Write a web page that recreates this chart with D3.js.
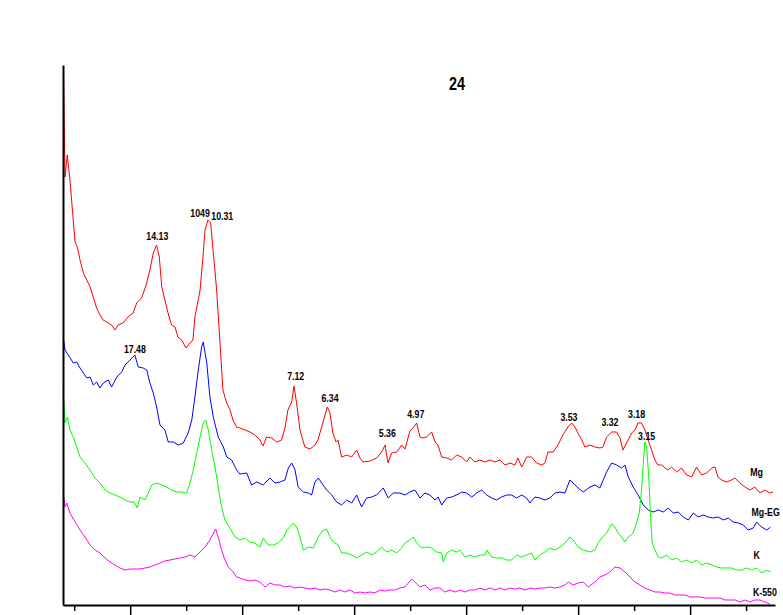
<!DOCTYPE html>
<html>
<head>
<meta charset="utf-8">
<script src="https://cdn.jsdelivr.net/npm/d3@7"></script>
<style>
body { margin: 0; background: #fff; }
svg { display: block; }
text { font-family: "Liberation Sans", Arial, sans-serif; font-weight: bold; fill: #000; }
</style>
</head>
<body>
<svg id="chart" width="783" height="615"></svg>
<script>
// XRD traces, [2-theta (deg), intensity (a.u., offsets included)]
var mg = [[2.02,538],[2.09,428],[2.19,450],[2.31,425],[2.42,395],[2.54,363],[2.64,358],[2.76,345],[2.91,332],[3.06,325],[3.21,318],[3.35,308],[3.50,297],[3.65,290],[3.79,285],[3.95,283],[4.17,280],[4.32,275],[4.46,280],[4.68,282],[4.90,288],[5.13,292],[5.29,302],[5.51,307],[5.71,320],[5.88,335],[6.03,352],[6.18,360],[6.30,348],[6.41,318],[6.55,305],[6.69,292],[6.85,280],[7.00,278],[7.13,268],[7.30,265],[7.49,257],[7.67,262],[7.80,265],[7.89,288],[8.12,315],[8.25,348],[8.34,375],[8.47,385],[8.59,382],[8.70,355],[8.86,315],[9.01,262],[9.14,215],[9.31,202],[9.46,195],[9.59,185],[9.75,178],[9.90,177],[10.13,175],[10.35,173],[10.57,170],[10.79,165],[10.93,159],[11.09,168],[11.32,167],[11.54,163],[11.76,165],[11.91,177],[12.04,195],[12.21,203],[12.31,219],[12.43,202],[12.58,175],[12.80,158],[13.03,156],[13.25,160],[13.38,165],[13.55,178],[13.70,190],[13.80,198],[13.92,192],[14.05,172],[14.19,163],[14.28,165],[14.44,148],[14.67,150],[14.89,148],[15.11,155],[15.26,147],[15.39,143],[15.71,144],[16.00,147],[16.23,153],[16.38,160],[16.51,142],[16.67,152],[16.90,153],[17.12,160],[17.27,156],[17.49,174],[17.63,177],[17.79,182],[17.94,168],[18.07,167],[18.24,168],[18.46,173],[18.61,163],[18.74,160],[18.91,148],[19.13,147],[19.35,145],[19.58,150],[19.80,148],[20.02,143],[20.17,148],[20.39,143],[20.62,145],[20.84,143],[21.06,145],[21.29,143],[21.51,145],[21.73,140],[21.96,142],[22.18,140],[22.31,147],[22.48,138],[22.70,148],[22.92,148],[23.15,142],[23.37,140],[23.52,142],[23.65,153],[23.88,153],[24.10,160],[24.32,170],[24.54,178],[24.71,182],[24.86,178],[24.99,172],[25.16,165],[25.30,158],[25.53,160],[25.75,158],[25.97,157],[26.11,158],[26.27,168],[26.50,173],[26.72,173],[26.87,167],[27.00,155],[27.16,162],[27.39,172],[27.54,175],[27.67,182],[27.83,182],[27.98,175],[28.12,165],[28.28,155],[28.43,145],[28.56,140],[28.73,140],[28.88,137],[29.01,135],[29.17,138],[29.40,133],[29.62,137],[29.84,130],[30.07,128],[30.29,138],[30.51,130],[30.74,132],[30.96,137],[31.11,138],[31.24,128],[31.41,125],[31.63,123],[31.85,125],[32.00,127],[32.22,122],[32.45,118],[32.67,115],[32.89,118],[33.12,112],[33.34,115],[33.56,112],[33.70,113]];

var mgEg = [[2.01,268],[2.09,255],[2.24,250],[2.46,242],[2.61,243],[2.76,237],[2.91,232],[3.06,227],[3.21,228],[3.35,220],[3.50,223],[3.65,217],[3.80,222],[4.02,225],[4.17,218],[4.40,228],[4.62,233],[4.77,240],[4.99,245],[5.21,250],[5.36,238],[5.58,237],[5.74,235],[5.88,222],[6.03,212],[6.18,198],[6.33,180],[6.55,175],[6.70,163],[6.92,163],[7.15,160],[7.37,162],[7.59,172],[7.75,185],[7.89,208],[8.04,235],[8.19,258],[8.26,263],[8.42,242],[8.56,208],[8.71,188],[8.93,168],[9.16,158],[9.31,148],[9.53,145],[9.75,135],[9.90,131],[10.20,132],[10.42,120],[10.65,123],[10.94,120],[11.24,127],[11.46,122],[11.69,123],[11.91,125],[12.06,137],[12.21,142],[12.36,135],[12.50,118],[12.73,113],[12.95,112],[13.10,110],[13.25,123],[13.40,127],[13.55,122],[13.77,115],[14.00,110],[14.22,103],[14.44,100],[14.67,105],[14.89,102],[15.11,110],[15.33,98],[15.56,107],[15.78,108],[16.00,110],[16.30,117],[16.52,107],[16.75,112],[17.04,112],[17.27,110],[17.49,113],[17.71,115],[17.94,107],[18.16,112],[18.38,110],[18.61,105],[18.75,108],[18.91,100],[19.13,107],[19.35,108],[19.58,110],[19.80,113],[20.02,112],[20.25,108],[20.47,112],[20.69,115],[20.92,110],[21.14,107],[21.36,105],[21.58,108],[21.81,110],[22.03,110],[22.25,107],[22.48,110],[22.70,107],[22.85,102],[23.07,108],[23.29,107],[23.52,105],[23.74,107],[23.96,112],[24.19,113],[24.41,112],[24.63,125],[24.78,122],[25.00,117],[25.23,113],[25.53,118],[25.75,120],[25.97,117],[26.12,125],[26.27,133],[26.50,142],[26.72,140],[26.94,137],[27.09,140],[27.24,128],[27.46,118],[27.68,110],[27.91,100],[28.13,95],[28.35,93],[28.58,95],[28.80,93],[29.02,97],[29.25,92],[29.47,93],[29.69,88],[29.92,85],[30.14,92],[30.36,88],[30.58,90],[30.81,88],[31.03,87],[31.25,88],[31.48,85],[31.70,87],[31.92,83],[32.15,82],[32.37,80],[32.59,75],[32.82,77],[32.97,83],[33.19,78],[33.42,75],[33.59,78]];

var k = [[2.01,215],[2.09,182],[2.19,188],[2.31,175],[2.46,168],[2.61,158],[2.76,148],[2.98,142],[3.21,135],[3.43,127],[3.65,122],[3.88,115],[4.10,112],[4.32,110],[4.54,108],[4.77,105],[4.99,103],[5.17,103],[5.32,97],[5.44,108],[5.66,105],[5.81,112],[5.96,120],[6.18,122],[6.41,120],[6.63,118],[6.85,115],[7.08,113],[7.30,113],[7.52,112],[7.67,122],[7.82,135],[7.97,152],[8.12,168],[8.26,182],[8.37,185],[8.49,175],[8.64,155],[8.79,138],[8.93,118],[9.08,98],[9.23,85],[9.46,77],[9.68,68],[9.90,65],[10.13,67],[10.35,63],[10.57,62],[10.79,58],[10.94,67],[11.17,60],[11.39,60],[11.61,62],[11.83,67],[11.99,75],[12.13,78],[12.28,82],[12.43,78],[12.58,68],[12.73,55],[12.95,58],[13.17,57],[13.40,68],[13.62,75],[13.77,76],[13.92,68],[14.07,63],[14.29,60],[14.44,52],[14.67,52],[14.89,50],[15.11,47],[15.33,50],[15.56,53],[15.78,50],[16.00,53],[16.23,58],[16.45,53],[16.67,55],[16.90,52],[17.12,57],[17.27,62],[17.49,65],[17.64,68],[17.79,62],[18.01,57],[18.24,58],[18.46,57],[18.68,53],[18.91,52],[18.98,43],[19.13,52],[19.35,55],[19.58,53],[19.72,55],[19.95,48],[20.17,50],[20.39,48],[20.62,50],[20.84,50],[20.92,55],[21.14,48],[21.36,47],[21.58,47],[21.81,45],[22.03,45],[22.25,50],[22.48,48],[22.70,50],[22.92,52],[23.07,45],[23.29,50],[23.52,53],[23.74,57],[23.96,55],[24.19,58],[24.41,62],[24.63,68],[24.78,65],[25.00,58],[25.23,55],[25.53,53],[25.75,55],[25.90,62],[26.05,67],[26.27,72],[26.50,81],[26.64,78],[26.79,72],[26.94,68],[27.09,63],[27.24,68],[27.46,72],[27.61,82],[27.73,92],[27.83,115],[27.91,142],[27.98,163],[28.06,158],[28.16,125],[28.24,85],[28.31,62],[28.43,55],[28.58,48],[28.73,47],[28.95,50],[29.17,45],[29.40,47],[29.62,43],[29.84,45],[30.07,42],[30.29,45],[30.51,40],[30.74,42],[30.96,40],[31.19,38],[31.41,37],[31.63,37],[31.85,37],[32.08,35],[32.30,35],[32.52,37],[32.75,35],[32.97,37],[33.19,32],[33.42,35],[33.59,33]];

var k550 = [[2.01,112],[2.09,98],[2.17,102],[2.31,92],[2.54,83],[2.76,75],[2.98,68],[3.21,60],[3.43,55],[3.65,52],[3.88,47],[4.10,43],[4.32,40],[4.54,37],[4.77,35],[4.99,36],[5.21,36],[5.44,36],[5.66,37],[5.88,38],[6.11,40],[6.33,42],[6.55,44],[6.78,45],[7.00,46],[7.22,47],[7.45,48],[7.67,50],[7.89,48],[8.12,53],[8.34,58],[8.56,65],[8.74,73],[8.82,76],[8.93,68],[9.08,55],[9.23,45],[9.38,38],[9.60,33],[9.75,28],[9.90,27],[10.13,25],[10.35,24],[10.57,25],[10.79,23],[11.02,18],[11.24,22],[11.46,20],[11.69,20],[11.91,18],[12.13,19],[12.36,17],[12.58,18],[12.80,17],[13.03,16],[13.25,17],[13.47,15],[13.70,16],[13.92,15],[14.14,13],[14.37,15],[14.59,13],[14.81,15],[15.04,12],[15.26,13],[15.48,12],[15.71,13],[15.93,12],[16.15,15],[16.38,14],[16.60,15],[16.82,15],[17.04,17],[17.27,18],[17.42,22],[17.57,26],[17.71,23],[17.94,18],[18.16,20],[18.38,15],[18.61,17],[18.83,17],[19.05,13],[19.28,15],[19.50,13],[19.72,15],[19.95,13],[20.17,15],[20.39,15],[20.62,17],[20.84,15],[21.06,17],[21.29,15],[21.51,17],[21.73,15],[21.96,17],[22.18,16],[22.40,17],[22.63,15],[22.85,17],[23.07,16],[23.29,17],[23.52,17],[23.74,18],[23.96,17],[24.19,18],[24.41,20],[24.56,23],[24.78,20],[25.00,22],[25.23,23],[25.45,18],[25.75,23],[25.97,28],[26.20,30],[26.42,33],[26.64,38],[26.87,37],[27.09,33],[27.31,28],[27.54,23],[27.76,20],[27.98,17],[28.21,15],[28.43,13],[28.65,13],[28.88,12],[29.10,12],[29.33,10],[29.55,10],[29.78,10],[30.00,8],[30.22,8],[30.45,8],[30.67,7],[30.89,7],[31.12,7],[31.34,7],[31.56,5],[31.78,5],[32.01,5],[32.23,3],[32.45,5],[32.67,3],[32.90,5],[33.12,5],[33.34,3],[33.56,1]];

var seriesNames = ["Mg", "Mg-EG", "K", "K-550"];
var seriesLabelAt = [[32.97, 129], [33.37, 89], [32.97, 46], [33.34, 9]];

// d-spacing (angstrom) annotations and where they sit
var peakLabels = ["14.13", "1049", "10.31", "17.48", "7.12", "6.34", "5.36", "4.97", "3.53", "3.32", "3.18", "3.15"];
var peakLabelAt = [[6.21, 365], [8.12, 388], [9.11, 385], [5.21, 252], [12.39, 225], [13.92, 203], [16.48, 168], [17.75, 187], [24.59, 184], [26.42, 179], [27.61, 187], [28.06, 165]];

var title = "24";
var xTicks = [2.5, 5, 7.5, 10, 12.5, 15, 17.5, 20, 22.5, 25, 27.5, 30, 32.5];

var svg = d3.select("#chart"),
    colors = ["#ff0000", "#0000ff", "#00ff00", "#ff00ff"],
    traces = [mg, mgEg, k, k550],
    narrow = 0.8; // squeeze bold sans to look like a narrow face

var x = d3.scaleLinear().domain([2, 33.79]).range([63, 775]);
var y = d3.scaleLinear().domain([0, 540]).range([605, 65]);

var line = d3.line()
    .x(function (d) { return x(d[0]); })
    .y(function (d) { return y(d[1]); });

svg.append("rect").attr("width", 783).attr("height", 615).attr("fill", "#fff");

svg.append("g").selectAll("path")
    .data(traces)
    .enter().append("path")
    .attr("d", line)
    .attr("fill", "none")
    .attr("stroke", function (d, i) { return colors[i]; })
    .attr("stroke-width", 1);

// axes: no labels, alternating short / long ticks
var xAxis = svg.append("g")
    .attr("transform", "translate(0," + y(0) + ")")
    .call(d3.axisBottom(x).tickValues(xTicks).tickFormat("").tickSize(6).tickSizeOuter(0));
xAxis.select(".domain").attr("stroke", "#000").attr("stroke-width", 2);
xAxis.selectAll(".tick line")
    .attr("stroke-width", 1.5)
    .attr("y2", function (d) { return d % 5 === 0 ? 10 : 6; });

var yAxis = svg.append("g")
    .attr("transform", "translate(" + x(2) + ",0)")
    .call(d3.axisLeft(y).tickValues([]).tickSizeOuter(0));
yAxis.select(".domain").attr("stroke", "#000").attr("stroke-width", 2);

function placeText(sel, at, size) {
    sel.attr("transform", function (d, i) {
            return "translate(" + x(at[i][0]) + "," + y(at[i][1]) + ") scale(" + narrow + ",1)";
        })
        .attr("text-anchor", "middle")
        .attr("font-size", size)
        .text(function (d) { return d; });
}

svg.append("g").selectAll("text")
    .data(peakLabels)
    .enter().append("text")
    .call(placeText, peakLabelAt, 11);

svg.append("g").selectAll("text")
    .data(seriesNames)
    .enter().append("text")
    .call(placeText, seriesLabelAt, 11);

svg.append("text")
    .attr("transform", "translate(457,90) scale(" + narrow + ",1)")
    .attr("text-anchor", "middle")
    .attr("font-size", 18)
    .text(title);
</script>
</body>
</html>
